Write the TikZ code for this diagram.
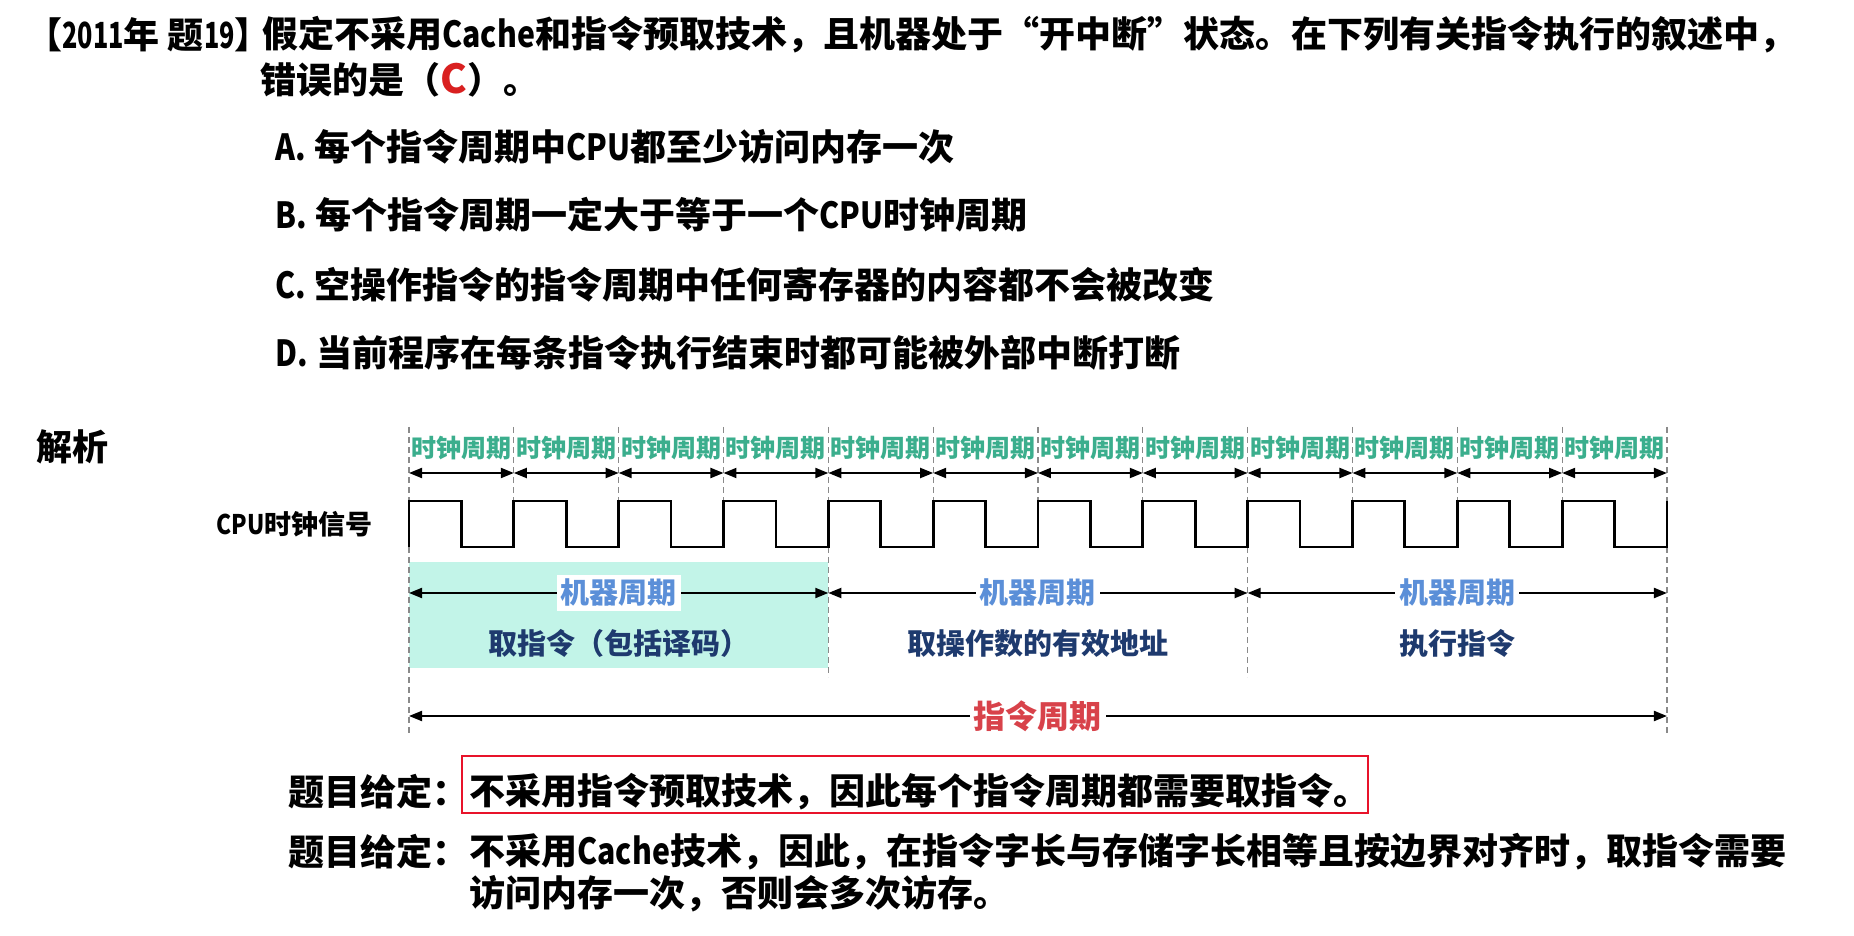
\documentclass[tikz,border=0pt]{standalone}
\usepackage{fontspec}
\setmainfont{Noto Sans CJK SC}
\usetikzlibrary{arrows.meta,calc}
\definecolor{tealtxt}{HTML}{3BAE8D}
\definecolor{tealfill}{HTML}{C2F4E8}
\definecolor{bluetxt}{HTML}{5B8FD8}
\definecolor{navytxt}{HTML}{1E3A6E}
\definecolor{redtxt}{HTML}{D8424A}
\definecolor{redbox}{HTML}{E8132A}
\definecolor{redC}{HTML}{D92020}
\definecolor{guidegray}{HTML}{8A8A8A}
\newcommand\latn[1]{\scalebox{0.84}[1]{#1}}
\newcommand\digs[1]{\scalebox{0.7}[1]{#1}}
\begin{document}
\begin{tikzpicture}[x=0.5pt,y=-0.5pt,
  txt/.style={font=\bfseries\fontsize{18}{22}\selectfont, inner sep=0pt, anchor=west},
  clklbl/.style={font=\bfseries\fontsize{12.5}{14}\selectfont, text=tealtxt, inner sep=0pt},
  sidelbl/.style={font=\bfseries\fontsize{13.5}{16}\selectfont, inner sep=0pt, anchor=west},
  mclbl/.style={font=\bfseries\fontsize{14.5}{16}\selectfont, text=bluetxt, fill=white, inner xsep=2pt, inner ysep=2pt},
  phase/.style={font=\bfseries\fontsize{14.5}{16}\selectfont, text=navytxt, inner sep=0pt},
  iclbl/.style={font=\bfseries\fontsize{16}{18}\selectfont, text=redtxt, fill=white, inner xsep=2pt, inner ysep=1pt},
  guide/.style={draw=guidegray, line width=0.6pt, dash pattern=on 3pt off 2pt},
  dim/.style={{Triangle[length=6.5pt,width=5pt]}-{Triangle[length=6.5pt,width=5pt]}, line width=1pt},
  clk/.style={line width=1.4pt, line join=miter}
]
\path[fill=white, use as bounding box] (0,0) rectangle (1854,936);

% question
\node[txt] (yr) at (26,35) {【\digs{2011}年 题\digs{19}】};
\node[txt] (q1) at (262,35) {假定不采用\latn{Cache}和指令预取技术，且机器处于“开中断”状态。在下列有关指令执行的叙述中，};
\node[txt] (q2) at (260,80) {错误的是（{\color{redC}\fontsize{20}{22}\selectfont C}）。};
\node[txt] (oa) at (275,147) {\latn{A.} 每个指令周期中\latn{CPU}都至少访问内存一次};
\node[txt] (ob) at (275,215) {\latn{B.} 每个指令周期一定大于等于一个\latn{CPU}时钟周期};
\node[txt] (oc) at (275,285) {\latn{C.} 空操作指令的指令周期中任何寄存器的内容都不会被改变};
\node[txt] (od) at (275,353) {\latn{D.} 当前程序在每条指令执行结束时都可能被外部中断打断};

\node[txt] (jx) at (36,447) {解析};

% teal background of the first machine cycle
\fill[tealfill] (409,562) rectangle (828,668);

% guide lines
\foreach \k/\b in {0/733,1/501,2/501,3/501,4/677,5/501,6/501,7/501,8/677,9/501,10/501,11/501,12/733}{
  \coordinate (gt\k) at ({409+104.83*\k},427);
  \coordinate (gb\k) at ({409+104.83*\k},\b);
  \draw[guide] (gt\k) -- (gb\k);
  \coordinate (a\k) at ({409+104.83*\k},473);
  \coordinate (m\k) at ({409+104.83*\k},593);
  \coordinate (i\k) at ({409+104.83*\k},716);
}

% clock periods
\foreach \k [evaluate=\k as \n using int(\k+1)] in {0,...,11}{
  \node[clklbl] (cl\k) at ({409+104.83*(\k+0.5)},448) {时钟周期};
  \draw[dim] (a\k) -- (a\n);
}

% clock signal
\node[sidelbl] (cpu) at (216,524) {\latn{CPU}时钟信号};
\coordinate (c0) at (409,547);
\draw[clk] (c0) \foreach \k in {0,...,11}{ -- ++(0,-46) -- ++(52.415,0) -- ++(0,46) -- ++(52.415,0) } -- ++(0,-46);

% machine cycles
\draw[dim] (m0) -- (m4);
\draw[dim] (m4) -- (m8);
\draw[dim] (m8) -- (m12);
\node[mclbl] (mc1) at ($(m0)!0.5!(m4)$) {机器周期};
\node[mclbl] (mc2) at ($(m4)!0.5!(m8)$) {机器周期};
\node[mclbl] (mc3) at ($(m8)!0.5!(m12)$) {机器周期};
\node[phase] (p1) at ({409+104.83*2},643) {取指令（包括译码）};
\node[phase] (p2) at ({409+104.83*6},643) {取操作数的有效地址};
\node[phase] (p3) at ({409+104.83*10},643) {执行指令};

% instruction cycle
\draw[dim] (i0) -- (i12);
\node[iclbl] (ic) at ($(i0)!0.5!(i12)$) {指令周期};

% notes
\node[txt] (n1) at (288,792) {题目给定：};
\node[txt] (n1t) at (469,792) {不采用指令预取技术，因此每个指令周期都需要取指令。};
\draw[draw=redbox, line width=1.1pt] (462,756) rectangle (1368,813);
\node[txt] (n2) at (288,852) {题目给定：};
\node[txt] (n2t) at (469,852) {不采用\latn{Cache}技术，因此，在指令字长与存储字长相等且按边界对齐时，取指令需要};
\node[txt] (n3t) at (469,894) {访问内存一次，否则会多次访存。};
\end{tikzpicture}
\end{document}
